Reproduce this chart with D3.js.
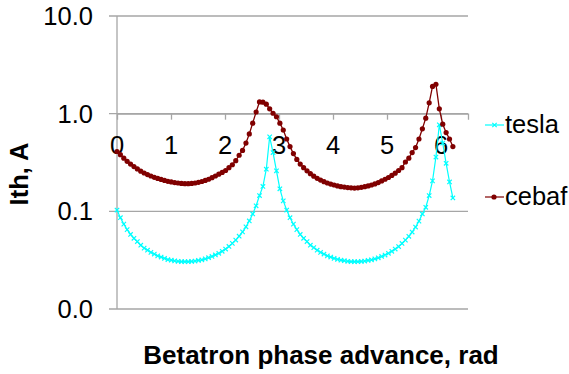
<!DOCTYPE html>
<html>
<head>
<meta charset="utf-8">
<script src="https://cdn.jsdelivr.net/npm/d3@7"></script>
<style>
  body { margin: 0; background: #fff; }
  svg { font-family: "Liberation Sans", Arial, sans-serif; }
</style>
</head>
<body>
<div id="chart"></div>
<script>
// Betatron phase advance (rad), one point every pi/50
var phase = [0.000,0.063,0.126,0.188,0.251,0.314,0.377,0.440,0.503,0.565,
  0.628,0.691,0.754,0.817,0.880,0.942,1.005,1.068,1.131,1.194,
  1.257,1.319,1.382,1.445,1.508,1.571,1.634,1.696,1.759,1.822,
  1.885,1.948,2.011,2.073,2.136,2.199,2.262,2.325,2.388,2.450,
  2.513,2.576,2.639,2.702,2.765,2.827,2.890,2.953,3.016,3.079,
  3.142,3.204,3.267,3.330,3.393,3.456,3.519,3.581,3.644,3.707,
  3.770,3.833,3.896,3.958,4.021,4.084,4.147,4.210,4.273,4.335,
  4.398,4.461,4.524,4.587,4.650,4.712,4.775,4.838,4.901,4.964,
  5.027,5.089,5.152,5.215,5.278,5.341,5.404,5.466,5.529,5.592,
  5.655,5.718,5.781,5.843,5.906,5.969,6.032,6.095,6.158,6.220];

// Threshold current, A
var tesla = [0.103,0.086,0.074,0.065,0.058,0.053,0.049,0.045,0.042,0.040,
  0.038,0.0365,0.035,0.034,0.033,0.032,0.0316,0.0311,0.0308,0.0306,
  0.0305,0.0305,0.0307,0.031,0.0314,0.0319,0.0326,0.0335,0.0345,0.0358,
  0.0372,0.039,0.0411,0.0437,0.047,0.0508,0.0556,0.0616,0.0694,0.0798,
  0.094,0.114,0.145,0.18,0.27,0.58,0.40,0.26,0.17,0.128,
  0.103,0.086,0.074,0.065,0.058,0.053,0.049,0.045,0.0425,0.040,
  0.038,0.0365,0.035,0.034,0.033,0.0322,0.0316,0.0312,0.0308,0.0306,
  0.0305,0.0305,0.0307,0.031,0.0314,0.0319,0.0326,0.0334,0.0345,0.0357,
  0.0372,0.039,0.0411,0.0436,0.0469,0.0507,0.0555,0.0614,0.0691,0.0794,
  0.094,0.11,0.145,0.205,0.36,0.77,0.50,0.31,0.20,0.137];

var cebaf = [0.41,0.38,0.35,0.325,0.305,0.287,0.272,0.258,0.247,0.238,
  0.230,0.223,0.217,0.212,0.207,0.203,0.200,0.197,0.195,0.193,
  0.192,0.192,0.193,0.195,0.198,0.202,0.207,0.213,0.221,0.230,
  0.240,0.250,0.262,0.280,0.300,0.330,0.375,0.420,0.500,0.620,
  0.800,1.04,1.32,1.31,1.25,1.12,1.01,0.93,0.80,0.68,
  0.55,0.46,0.39,0.34,0.305,0.280,0.260,0.243,0.229,0.218,
  0.209,0.201,0.195,0.190,0.186,0.182,0.179,0.177,0.175,0.174,
  0.173,0.174,0.176,0.179,0.182,0.186,0.191,0.197,0.205,0.213,
  0.222,0.233,0.246,0.262,0.280,0.320,0.350,0.400,0.450,0.550,
  0.700,0.900,1.29,1.90,2.00,1.12,0.78,0.64,0.55,0.46];

var xTicks = [1, 2, 3, 4, 5, 6];
var xTickLabels = [0, 1, 2, 3, 4, 5, 6];
var yTicks = [10, 1, 0.1, 0.01];
var yTickLabels = ["10.0", "1.0", "0.1", "0.0"];
var seriesNames = ["tesla", "cebaf"];

var svgWidth = 569;
var svgHeight = 374;

// plot area
var plot = { left: 117, right: 468, top: 16, bottom: 309 };

var svg = d3.select("#chart")
    .append("svg")
    .attr("width", svgWidth)
    .attr("height", svgHeight);

var xScale = d3.scaleLinear()
    .domain([0, 6.5])
    .range([plot.left, plot.right]);

var yScale = d3.scaleLog()
    .domain([0.01, 10])
    .range([plot.bottom, plot.top]);

// horizontal gridlines, they also serve as y ticks
svg.append("g")
    .selectAll("line")
    .data(yTicks)
    .enter()
    .append("line")
    .attr("x1", plot.left - 8)
    .attr("x2", plot.right)
    .attr("y1", d => yScale(d))
    .attr("y2", d => yScale(d))
    .attr("stroke", "#a6a6a6")
    .attr("stroke-width", 1.3);

// y axis line
svg.append("line")
    .attr("x1", plot.left)
    .attr("x2", plot.left)
    .attr("y1", plot.top)
    .attr("y2", plot.bottom)
    .attr("stroke", "#a6a6a6")
    .attr("stroke-width", 1.3);

// y tick labels
svg.append("g")
    .selectAll("text")
    .data(yTicks)
    .enter()
    .append("text")
    .attr("x", 93)
    .attr("y", d => yScale(d) + 9)
    .attr("text-anchor", "end")
    .attr("font-size", "25.5px")
    .attr("fill", "#000")
    .text((d, i) => yTickLabels[i]);

// x axis crosses at y = 1
var xAxisY = yScale(1);
var bottomAxis = d3.axisBottom(xScale)
    .tickValues(xTicks)
    .tickSize(6)
    .tickFormat("");

var xAxisGroup = svg.append("g")
    .attr("transform", `translate(0, ${xAxisY})`)
    .call(bottomAxis);
xAxisGroup.select(".domain").attr("stroke", "#a6a6a6").attr("stroke-width", 1.3);
xAxisGroup.selectAll(".tick line").attr("stroke", "#a6a6a6").attr("stroke-width", 1.3);

svg.append("g")
    .selectAll("text")
    .data(xTickLabels)
    .enter()
    .append("text")
    .attr("x", d => xScale(d))
    .attr("y", 154)
    .attr("text-anchor", "middle")
    .attr("font-size", "25.5px")
    .attr("fill", "#000")
    .text(d => d);

// series lines
var line = d3.line()
    .x((d, i) => xScale(phase[i]))
    .y(d => yScale(d));

svg.append("path")
    .datum(tesla)
    .attr("fill", "none")
    .attr("stroke", "#00ffff")
    .attr("stroke-width", 1.2)
    .attr("d", line);

svg.append("path")
    .datum(cebaf)
    .attr("fill", "none")
    .attr("stroke", "#800000")
    .attr("stroke-width", 1.3)
    .attr("d", line);

// tesla markers: small crosses
var crossPath = "M-2.2,-2.2L2.2,2.2M-2.2,2.2L2.2,-2.2";
svg.append("g")
    .selectAll("path")
    .data(tesla)
    .enter()
    .append("path")
    .attr("transform", (d, i) => `translate(${xScale(phase[i])}, ${yScale(d)})`)
    .attr("d", crossPath)
    .attr("stroke", "#00ffff")
    .attr("stroke-width", 1.2)
    .attr("fill", "none");

// cebaf markers: dots
svg.append("g")
    .selectAll("circle")
    .data(cebaf)
    .enter()
    .append("circle")
    .attr("cx", (d, i) => xScale(phase[i]))
    .attr("cy", d => yScale(d))
    .attr("r", 2.6)
    .attr("fill", "#800000");

// legend
var legendY = [125, 197];
var legend = svg.append("g")
    .selectAll("g")
    .data(seriesNames)
    .enter()
    .append("g")
    .attr("transform", (d, i) => `translate(485, ${legendY[i]})`);

legend.append("line")
    .attr("x1", 0)
    .attr("x2", 19)
    .attr("stroke", (d, i) => i === 0 ? "#00ffff" : "#800000")
    .attr("stroke-width", 1.2);

legend.filter((d, i) => i === 0)
    .append("path")
    .attr("transform", "translate(9.5, 0)")
    .attr("d", crossPath)
    .attr("stroke", "#00ffff")
    .attr("stroke-width", 1.2);

legend.filter((d, i) => i === 1)
    .append("circle")
    .attr("cx", 9)
    .attr("r", 2.6)
    .attr("fill", "#800000");

legend.append("text")
    .attr("x", 20)
    .attr("y", 8)
    .attr("font-size", "25.5px")
    .attr("fill", "#000")
    .text(d => d);

// axis titles
svg.append("text")
    .attr("x", 321)
    .attr("y", 364)
    .attr("text-anchor", "middle")
    .attr("font-size", "26px")
    .attr("font-weight", "bold")
    .attr("fill", "#000")
    .text("Betatron phase advance, rad");

svg.append("text")
    .attr("transform", "translate(28, 174) rotate(-90)")
    .attr("text-anchor", "middle")
    .attr("font-size", "25.5px")
    .attr("font-weight", "bold")
    .attr("fill", "#000")
    .text("Ith, A");
</script>
</body>
</html>
